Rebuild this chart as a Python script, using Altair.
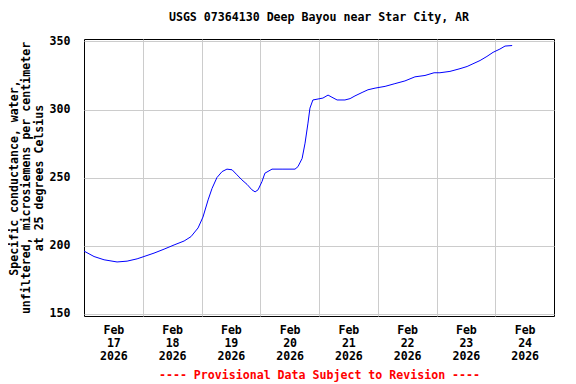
import altair as alt
import pandas as pd

# Hours since Feb 17 2026 00:00
hours = [0, 4.1, 8.2, 13.5, 17.6, 21.7, 24.5, 28.6, 32.7, 36.8, 40.9, 43.7, 46.6, 48.6,
         50.7, 52.3, 54.3, 56.4, 58.4, 60.5, 62.5, 64.5, 66.6, 68.6, 69.9, 71.1, 72.7,
         73.9, 76.8, 80.9, 86.2, 87.4, 89.1, 90.3, 91.5, 92.3, 93.5, 97.6, 99.7, 101.3,
         103.4, 106.6, 108.7, 110.7, 113.6, 116.0, 118.9, 123.0, 127.0, 131.1, 135.2,
         139.3, 143.0, 145.4, 149.5, 153.6, 156.5, 158.9, 161.8, 164.6, 167.1, 169.9,
         172.0, 174.9]
conductance = [196.0, 192, 189.6, 188, 188.6, 190.3, 192, 194.5, 197.4, 200.5, 203.4,
               206.6, 213, 221, 233.6, 242, 250, 254.4, 256.2, 255.7, 252, 248.3, 245,
               241, 239.5, 241, 247, 253.2, 256.2, 256.2, 256.2, 258, 264, 275.3, 290,
               301, 307, 308.4, 310.6, 309, 307, 307, 308, 310, 312.5, 314.5, 315.7, 317,
               319, 321, 324, 325, 327, 327, 328, 330, 331.6, 333.6, 336, 339, 342, 344.4,
               346.6, 347]

tick_days = [17, 18, 19, 20, 21, 22, 23, 24]
tick_month = "Feb"
tick_year = "2026"
y_ticks = [150, 200, 250, 300, 350]

title_text = "USGS 07364130 Deep Bayou near Star City, AR"
y_title = ["Specific conductance, water,",
           "unfiltered, microsiemens per centimeter",
           "at 25 degrees Celsius"]
footer = "---- Provisional Data Subject to Revision ----"

df = pd.DataFrame({"h": hours, "v": conductance})

FONT = "DejaVu Sans Mono"
FS = 11.6

x_vals = [12 + 12 * i for i in range(15)]  # 12..180
label_expr = ("datum.value % 24 == 12 ? ['" + tick_month + "', '' + ("
              + str(tick_days[0]) + " + floor(datum.value / 24)), '" + tick_year + "'] : ''")

chart = alt.Chart(df).mark_line(color="#0000ff", strokeWidth=1).encode(
    x=alt.X("h:Q",
            scale=alt.Scale(domain=[0, 24 * len(tick_days)], nice=False, zero=False),
            axis=alt.Axis(values=x_vals, labelExpr=label_expr, title=footer,
                          grid=True, gridColor="#cccccc", gridWidth=1,
                          gridOpacity={"condition": {"test": "datum.value % 24 === 0", "value": 1}, "value": 0},
                          ticks=False, tickSize=0, domain=False,
                          labelPadding=8, labelLineHeight=13, labelAngle=0,
                          labelAlign="center", labelBaseline="top",
                          labelFlush=False, labelOverlap=False,
                          labelFont=FONT, labelFontSize=FS, labelFontWeight="bold",
                          labelColor="black",
                          titleFont=FONT, titleFontSize=FS, titleFontWeight="bold",
                          titleColor="#ff0000", titlePadding=8)),
    y=alt.Y("v:Q",
            scale=alt.Scale(domain=[148.3, 351.8], nice=False, zero=False),
            axis=alt.Axis(values=y_ticks, title=y_title, grid=True, gridColor="#cccccc",
                          gridWidth=1, ticks=False, tickSize=0, domain=False,
                          labelFont=FONT, labelFontSize=FS, labelFontWeight="bold",
                          labelColor="black",
                          titleFont=FONT, titleFontSize=FS, titleFontWeight="bold",
                          titleColor="black",
                          labelPadding=14, titlePadding=5, titleLineHeight=12.5)),
).properties(
    width=470,
    height=277,
    background="white",
    title=alt.TitleParams(title_text, font=FONT, fontSize=FS, fontWeight="bold",
                          color="black", anchor="middle", offset=12),
    autosize=alt.AutoSizeParams(type="none"),
    padding={"left": 76, "top": 31, "right": 14, "bottom": 66},
).configure_view(
    stroke="black", strokeWidth=1
)

chart.save("out.html", embed_options={"renderer": "svg", "actions": False})
